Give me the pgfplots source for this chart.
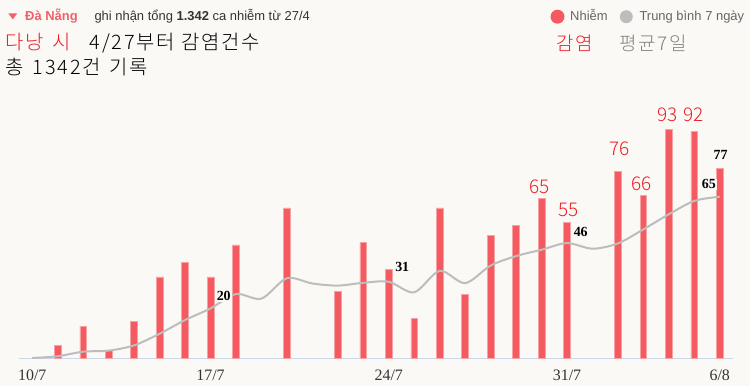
\documentclass[border=0pt]{standalone}
\usepackage{pgfplots}
\pgfplotsset{compat=1.18}
\usepackage{fontspec}
\setmainfont{Liberation Sans}
\IfFontExistsTF{Noto Sans CJK KR Light}
  {\newfontfamily\cjk{Noto Sans CJK KR Light}\newfontfamily\cjkw{Noto Sans CJK KR Light}[LetterSpace=9]}
  {\newfontfamily\cjk{Noto Sans CJK KR}\newfontfamily\cjkw{Noto Sans CJK KR}[LetterSpace=9]}
\newfontfamily\serif{Liberation Serif}
\definecolor{bg}{HTML}{FAF9F6}
\definecolor{barred}{HTML}{F45A5F}
\definecolor{baredge}{HTML}{F7A3A5}
\definecolor{avggray}{HTML}{BDBDBD}
\definecolor{krred}{HTML}{EE1C25}
\definecolor{hdrred}{HTML}{F0606A}
\definecolor{axisblue}{HTML}{CCD6EB}
\definecolor{txtdark}{HTML}{333333}
\definecolor{txtgray}{HTML}{666666}
\definecolor{krgray}{HTML}{808080}
\begin{document}
\begin{tikzpicture}[x=1bp,y=1bp]
\fill[bg] (0,0) rectangle (750,386);
\path[use as bounding box] (0,0) rectangle (750,386);
% header
\fill[hdrred] (8.3,372.7) -- (17.3,372.7) -- (12.8,366.7) -- cycle;
\node[anchor=base west, inner sep=0, text=hdrred, font=\bfseries\fontsize{13}{15}\selectfont] at (25,365.3) {Đà Nẵng};
\node[anchor=base west, inner sep=0, text=txtdark, font=\fontsize{13}{15}\selectfont] at (94.3,365.3) {ghi nhận tổng \textbf{1.342} ca nhiễm từ 27/4};
\tikzset{kr/.style={anchor=base west, inner sep=0, font=\cjkw\fontsize{20}{22}\selectfont}}
\node[kr, text=krred] at (5.5,337) {다낭};
\node[kr, text=krred] at (52.5,337) {시};
\node[kr] at (89.5,337) {4/27부터};
\node[kr] at (181,337) {감염건수};
\node[kr] at (5.5,312) {총};
\node[kr] at (32.5,312) {1342건};
\node[kr] at (109.5,312) {기록};
% legend
\fill[barred] (557.5,369.3) circle (7);
\node[anchor=base west, inner sep=0, text=txtgray, font=\fontsize{13}{15}\selectfont] at (570,365.3) {Nhiễm};
\fill[avggray] (626.3,369.3) circle (6.5);
\node[anchor=base west, inner sep=0, text=txtgray, font=\fontsize{13}{15}\selectfont] at (639.3,365.3) {Trung bình 7 ngày};
\node[anchor=base west, inner sep=0, text=krred, font=\cjkw\fontsize{19}{21}\selectfont] at (556,336) {감염};
\node[anchor=base west, inner sep=0, text=krgray, font=\cjkw\fontsize{19}{21}\selectfont] at (619.5,336) {평균7일};
\begin{axis}[
  at={(19bp,28bp)}, anchor=south west,
  scale only axis, width=714bp, height=258.3bp,
  xmin=-0.52, xmax=27.52, ymin=0, ymax=105,
  axis x line=bottom, axis y line=none,
  x axis line style={draw=axisblue, line width=1bp, -},
  xtick={0,7,14,21,27}, xticklabels={10/7,17/7,24/7,31/7,6/8},
  major tick length=0,
  xticklabel style={font=\serif\fontsize{16}{16}\selectfont, text=txtdark, anchor=base, yshift=-22bp},
  clip=false,
]
\addplot[ybar, bar width=6.7bp, fill=barred, draw=baredge, line width=0.6bp] coordinates {
 (1,5) (2,13) (3,3) (4,15) (5,33) (6,39) (7,33) (8,46)
 (10,61) (12,27) (13,47) (14,36) (15,16) (16,61) (17,26) (18,50) (19,54)
 (20,65) (21,55) (23,76) (24,66) (25,93) (26,92) (27,77)};
\addplot[avggray, line width=2bp, smooth, tension=0.5] coordinates {
 (0,0) (1,0.71) (2,2.57) (3,3) (4,5.14) (5,9.86) (6,15.43) (7,20.14) (8,26)
 (9,24.14) (10,32.43) (11,30.29) (12,29.43) (13,30.57) (14,31) (15,26.71)
 (16,35.43) (17,30.43) (18,37.57) (19,41.43) (20,44) (21,46.71) (22,44.43)
 (23,46.57) (24,52.29) (25,58.43) (26,63.86) (27,65.57)};
% red labels
\addplot[draw=none, nodes near coords, point meta=explicit symbolic,
  nodes near coords style={anchor=base, inner sep=0, text=krred, font=\cjk\fontsize{19}{21}\selectfont}]
  coordinates {(19.94,66.7) [65] (21.05,57.7) [55] (23.07,82.5) [76] (23.92,67.9) [66] (24.96,96.3) [93] (25.98,96) [92]};
% black labels
\addplot[draw=none, nodes near coords, point meta=explicit symbolic,
  nodes near coords style={anchor=base, inner sep=1bp, fill=bg, text=black, font=\serif\bfseries\fontsize{14}{16}\selectfont}]
  coordinates {(7.52,23.3) [20] (14.53,35) [31] (21.54,49.3) [46] (26.57,68.7) [65] (27.03,80.5) [77]};
\end{axis}
\end{tikzpicture}
\end{document}
